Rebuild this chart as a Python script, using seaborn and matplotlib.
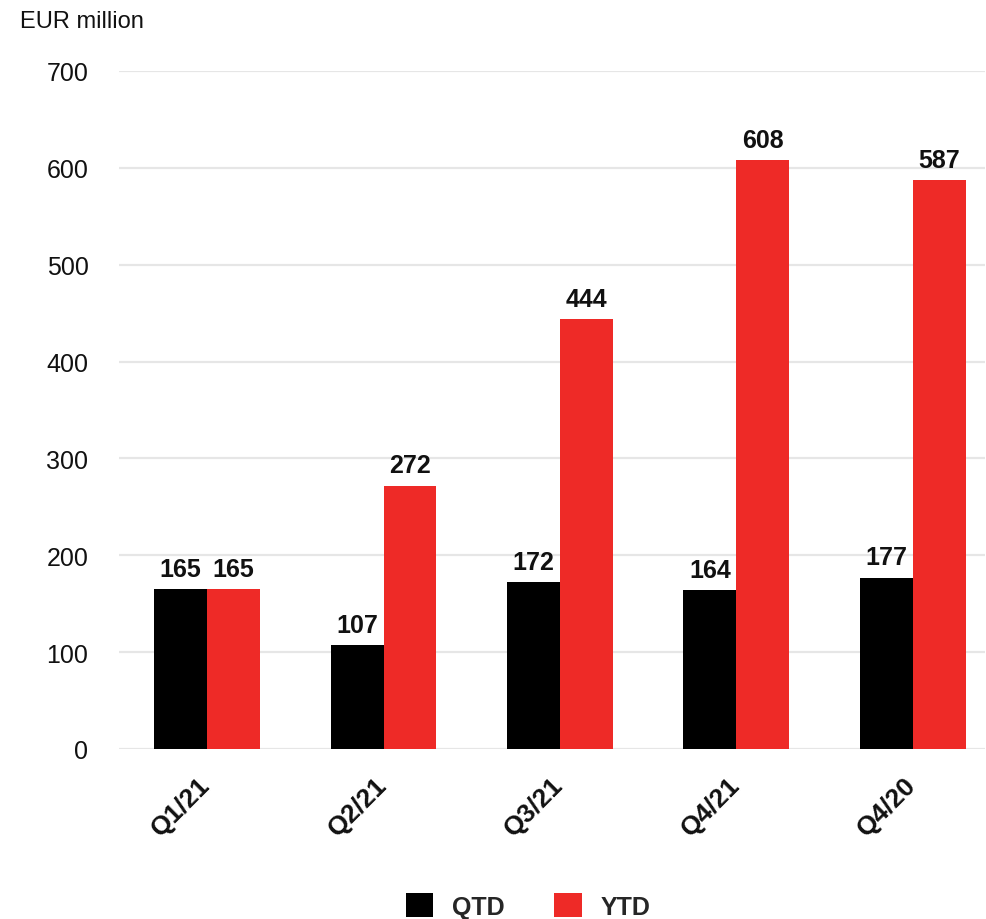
import matplotlib
matplotlib.use("Agg")
import matplotlib.pyplot as plt
import matplotlib.transforms as mtransforms
import seaborn as sns
import pandas as pd
from matplotlib.patches import Patch

categories = ["Q1/21", "Q2/21", "Q3/21", "Q4/21", "Q4/20"]
qtd = [165, 107, 172, 164, 177]
ytd = [165, 272, 444, 608, 587]
series_names = ["QTD", "YTD"]
yticks = [0, 100, 200, 300, 400, 500, 600, 700]

colors = {"QTD": "#000000", "YTD": "#EE2A27"}

df = pd.DataFrame({
    "quarter": categories * 2,
    "value": qtd + ytd,
    "series": ["QTD"] * len(categories) + ["YTD"] * len(categories),
})

sns.set_theme(style="white")
plt.rcParams["font.family"] = ["Liberation Sans", "DejaVu Sans"]

fig = plt.figure(figsize=(9.86, 9.2), dpi=100)
ax = fig.add_axes([0.1207, 0.1848, 0.8783, 0.7370])

sns.barplot(data=df, x="quarter", y="value", hue="series", order=categories,
            hue_order=series_names, palette=colors, width=0.6, gap=0,
            saturation=1, ax=ax, legend=False, errorbar=None)

for patch in ax.patches:
    patch.set_linewidth(0)

for container in ax.containers:
    ax.bar_label(container, fmt="%d", padding=6, fontsize=18,
                 fontweight="bold", color="#111111")

ax.set_ylim(0, 700)
ax.set_yticks(yticks)
ax.set_xlim(-0.5, 4.41)
ax.yaxis.grid(True, color="#E6E6E6", linewidth=1.6)
ax.set_axisbelow(True)
for s in ax.spines.values():
    s.set_visible(False)
ax.axhline(0, color="#E6E6E6", linewidth=2, zorder=0.5)

ax.set_xlabel("")
ax.set_ylabel("")
ax.tick_params(axis="y", length=0, pad=22, labelsize=18, labelcolor="#111111")
ax.tick_params(axis="x", length=0, pad=17)
shift = mtransforms.ScaledTranslation(-9 / 100, 0, fig.dpi_scale_trans)
for lbl in ax.get_xticklabels():
    lbl.set_rotation(45)
    lbl.set_ha("right")
    lbl.set_va("top")
    lbl.set_rotation_mode("anchor")
    lbl.set_fontsize(19)
    lbl.set_fontweight("bold")
    lbl.set_color("#111111")
    lbl.set_transform(lbl.get_transform() + shift)

fig.text(20 / 986, 1 - 22 / 920, "EUR million", fontsize=17, color="#111111",
         ha="left", va="center")

handles = [Patch(facecolor=colors[n], edgecolor="none") for n in series_names]
fig.legend(handles, series_names, loc="center", bbox_to_anchor=(528 / 986, 1 - 907 / 920),
           ncol=2, frameon=False, prop={"size": 18, "weight": "bold"},
           handlelength=1.1, handleheight=1.1, handletextpad=0.75, columnspacing=2.0)

fig.savefig("out.png", dpi=100, facecolor="white")
